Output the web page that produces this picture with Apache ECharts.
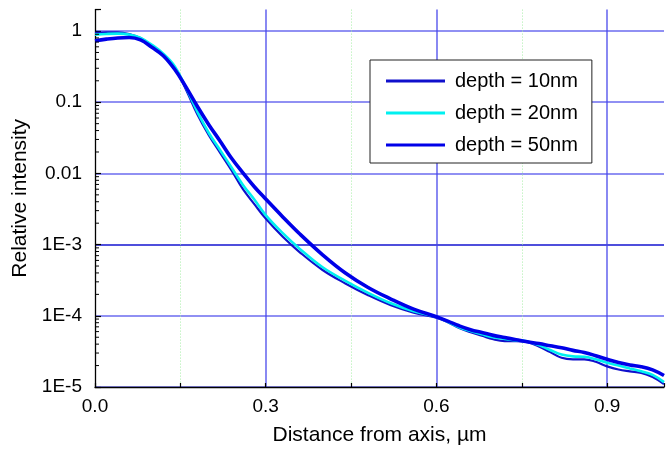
<!DOCTYPE html>
<html><head><meta charset="utf-8">
<script src="https://cdn.jsdelivr.net/npm/echarts@6/dist/echarts.min.js"></script>
<style>html,body{margin:0;padding:0;background:#fff}#c{width:667px;height:451px}</style>
</head><body><div id="c"></div>
<script>
// ---- data ----
const xValues = [0,0.02,0.04,0.06,0.08,0.10,0.12,0.14,0.16,0.18,0.20,0.22,0.24,0.26,0.28,0.30,
  0.33,0.36,0.40,0.44,0.48,0.52,0.56,0.60,
  0.62,0.64,0.66,0.68,0.70,0.72,0.74,0.76,0.78,0.80,0.82,0.84,0.86,0.88,0.90,0.92,0.94,0.96,0.98,1.00];
const depth10 = [0.94,0.96,0.96,0.91,0.80,0.62,0.46,0.30,0.15,0.067,0.0344,0.0194,0.011,0.0060,0.0037,0.00232,
  0.00129,7.8e-4,4.4e-4,2.85e-4,1.95e-4,1.41e-4,1.11e-4,9.4e-5,
  8.13e-5,6.76e-5,5.89e-5,5.25e-5,4.68e-5,4.42e-5,4.42e-5,4.27e-5,3.72e-5,3.09e-5,2.57e-5,2.45e-5,2.45e-5,2.26e-5,1.95e-5,1.76e-5,1.66e-5,1.58e-5,1.38e-5,1.10e-5];
const depth20 = [0.89,0.91,0.92,0.89,0.80,0.64,0.48,0.32,0.16,0.073,0.037,0.0212,0.0121,0.0069,0.0043,0.0026,
  0.00145,8.7e-4,4.8e-4,3.1e-4,2.1e-4,1.5e-4,1.16e-4,9.7e-5,
  8.22e-5,6.92e-5,6.10e-5,5.50e-5,5.01e-5,4.73e-5,4.52e-5,4.37e-5,3.89e-5,3.31e-5,2.85e-5,2.69e-5,2.66e-5,2.45e-5,2.19e-5,2.0e-5,1.82e-5,1.66e-5,1.48e-5,1.17e-5];
const depth50 = [0.73,0.77,0.80,0.81,0.75,0.59,0.45,0.29,0.163,0.087,0.0484,0.0283,0.0163,0.0102,0.0065,0.00437,
  0.00245,0.00141,7.2e-4,4.0e-4,2.5e-4,1.72e-4,1.24e-4,9.7e-5,
  8.41e-5,7.24e-5,6.38e-5,5.82e-5,5.31e-5,4.95e-5,4.62e-5,4.31e-5,4.07e-5,3.80e-5,3.55e-5,3.27e-5,3.05e-5,2.75e-5,2.45e-5,2.21e-5,2.04e-5,1.93e-5,1.74e-5,1.45e-5];
const seriesNames = ['depth = 10nm','depth = 20nm','depth = 50nm'];
const xTickLabels = ['0.0','0.3','0.6','0.9'];
const yTickLabels = ['1E-5','1E-4','1E-3','0.01','0.1','1'];
const decades = [1e-5,1e-4,1e-3,1e-2,1e-1,1];
const minorMultipliers = [2,3,4,5,6,7,8,9];
const xTitle = 'Distance from axis, \u00b5m';
const yTitle = 'Relative intensity';

// ---- chart ----
const FONT = 'Liberation Sans';
const BLUE = 'rgba(70,70,235,0.8)';
const DBLUE = '#1515d0';
const GREEN = '#a6eea6';
const COLORS = ['#1010cc','#00f0f0','#0000e8'];
const WIDTHS = [2.2,2.6,3.6];
const xMin = 0, xMax = 1, yMin = 1e-5, yMax = 2;
const minorY = [];
decades.forEach(d => minorMultipliers.forEach(m => { if (d*m <= yMax) minorY.push(d*m); }));
const pair = arr => xValues.map((x,i)=>[x, arr[i]]);
const allData = [depth10, depth20, depth50];

const chart = echarts.init(document.getElementById('c'), null, {renderer:'canvas'});
chart.setOption({
  animation:false,
  backgroundColor:'#fff',
  textStyle:{fontFamily:FONT},
  grid:{left:95, top:9.6, width:576.7, height:378.1, containLabel:false},
  xAxis:[{
    type:'value', min:xMin, max:xMax, interval:0.15, position:'bottom',
    axisLine:{show:true, onZero:false, lineStyle:{color:'#000', width:1.3}},
    axisTick:{show:true, inside:true, length:4, lineStyle:{color:'#000', width:1.2}},
    axisLabel:{interval:0, fontFamily:FONT, fontSize:19, color:'#000', margin:10,
      formatter: v => { const k = v/0.3; const r = Math.round(k); return Math.abs(k-r) < 1e-6 && xTickLabels[r] !== undefined ? xTickLabels[r] : ''; }},
    splitLine:{show:true, lineStyle:{color:['transparent','transparent',BLUE,'transparent',BLUE,'transparent',BLUE,'transparent'], width:1.6}},
    name:xTitle, nameLocation:'middle', nameGap:38,
    nameTextStyle:{fontFamily:FONT, fontSize:21, color:'#000'}
  },{
    type:'value', min:xMin, max:xMax, interval:0.15, position:'top',
    axisLine:{show:false}, axisTick:{show:false}, axisLabel:{show:false},
    splitLine:{show:true, lineStyle:{color:['transparent',GREEN,'transparent',GREEN,'transparent',GREEN,'transparent','transparent'], type:[1,2], width:1}}
  }],
  yAxis:{
    type:'log', logBase:10, min:yMin, max:yMax,
    axisLine:{show:true, onZero:false, lineStyle:{color:'#000', width:1.3}},
    axisTick:{show:true, inside:true, length:6, lineStyle:{color:'#000', width:1.2}},
    axisLabel:{fontFamily:FONT, fontSize:19, color:'#000', margin:13,
      formatter: v => { const l = Math.log10(v); const e = Math.round(l); return Math.abs(l-e) < 1e-6 && yTickLabels[e+5] !== undefined ? yTickLabels[e+5] : ''; }},
    splitLine:{show:true, lineStyle:{color:[BLUE,BLUE,DBLUE,BLUE,BLUE,BLUE,'transparent'], width:1.5}},
    name:yTitle, nameLocation:'middle', nameGap:61, nameRotate:90,
    nameTextStyle:{fontFamily:FONT, fontSize:21, color:'#000'}
  },
  legend:{
    show:true, orient:'vertical', left:370, top:60,
    data:seriesNames.map((n,i) => ({name:n, icon:'rect', itemStyle:{color:COLORS[i]}})),
    itemWidth:59, itemHeight:3, itemGap:10,
    padding:[10,14,7,16],
    borderColor:'#222', borderWidth:1, backgroundColor:'#fff',
    textStyle:{fontFamily:FONT, fontSize:20, lineHeight:22, color:'#000', padding:[0,0,0,5]}
  },
  series:[
    ...seriesNames.map((n,i) => ({name:n, type:'line', xAxisIndex:0, data:pair(allData[i]), symbol:'none', smooth:0.4,
      lineStyle:{color:COLORS[i], width:WIDTHS[i]}, itemStyle:{color:COLORS[i]}, z:2+i})),
    {type:'custom', xAxisIndex:0, silent:true, clip:false, z:5,
      data: minorY.map(v => [xMin, v]),
      renderItem:(params, api) => {
        const p = api.coord([api.value(0), api.value(1)]);
        return {type:'line', shape:{x1:p[0], y1:p[1], x2:p[0]+4, y2:p[1]}, style:{stroke:'#000', lineWidth:1}};
      }}
  ]
});
</script></body></html>
